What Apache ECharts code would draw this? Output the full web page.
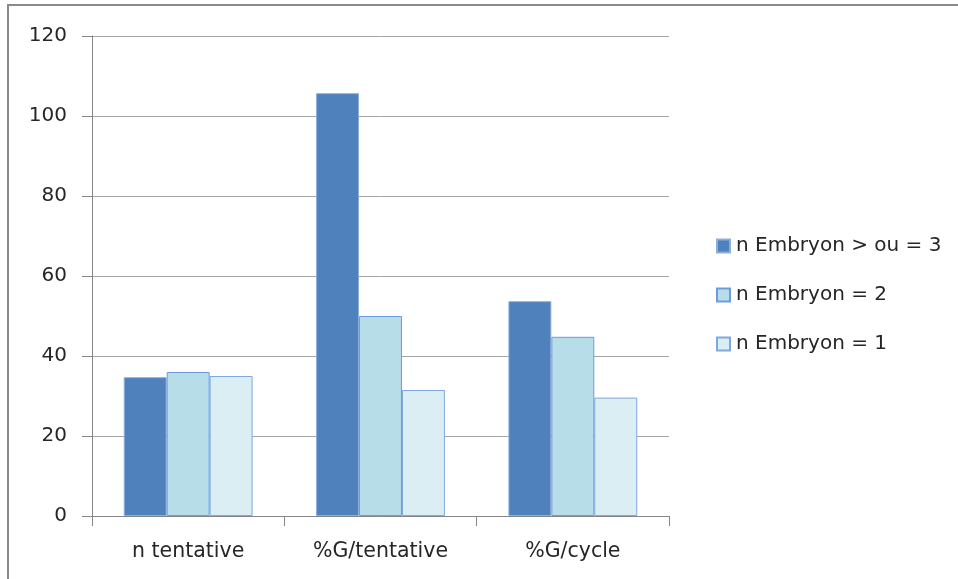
<!DOCTYPE html>
<html><head><meta charset="utf-8">
<script src="https://cdn.jsdelivr.net/npm/echarts@6/dist/echarts.min.js"></script>
<style>html,body{margin:0;padding:0;background:#fff;}#c{width:958px;height:579px;}</style>
</head><body><div id="c"></div>
<script>
const categories = ['n tentative', '%G/tentative', '%G/cycle'];
const seriesNames = ['n Embryon > ou = 3', 'n Embryon = 2', 'n Embryon = 1'];
const embryon3 = [34.7, 105.7, 53.7];
const embryon2 = [36.0, 50.0, 44.8];
const embryon1 = [35.0, 31.5, 29.6];
const yTicks = [0, 20, 40, 60, 80, 100, 120];

const FONT = 'DejaVu Sans';
const chart = echarts.init(document.getElementById('c'));
const fills = ['#4F81BD', '#B7DDE8', '#DBEEF4'];
const borders = ['#8CAEDB', '#6E9BDD', '#7FA7E0'];
const data = [embryon3, embryon2, embryon1];
chart.setOption({
  animation: false,
  graphic: [{type: 'rect', shape: {x: 8, y: 5, width: 1200, height: 1200}, style: {fill: 'none', stroke: '#8A8A8A', lineWidth: 2}, z: -1}],
  grid: {left: 92, right: 289, top: 36, bottom: 63, containLabel: false},
  legend: {
    orient: 'vertical', left: 711, top: 231, itemGap: 29, itemWidth: 13, itemHeight: 13,
    icon: 'rect',
    textStyle: {fontFamily: FONT, fontSize: 20, color: '#262626', padding: [0, 0, 0, 1]},
    data: seriesNames
  },
  xAxis: {
    type: 'category', data: categories,
    axisLine: {lineStyle: {color: '#868686', width: 1}},
    axisTick: {show: true, length: 10, lineStyle: {color: '#868686'}},
    axisLabel: {fontFamily: FONT, fontSize: 20.5, color: '#262626', margin: 25}
  },
  yAxis: {
    type: 'value', min: yTicks[0], max: yTicks[yTicks.length - 1], interval: 20,
    axisLine: {show: true, lineStyle: {color: '#868686'}},
    axisTick: {show: true, length: 10, lineStyle: {color: '#868686'}},
    splitLine: {lineStyle: {color: '#A6A6A6', width: 1}},
    axisLabel: {fontFamily: FONT, fontSize: 20, color: '#262626', margin: 25}
  },
  series: data.map((d, i) => ({
    name: seriesNames[i], type: 'bar', data: d,
    barGap: '0%', barCategoryGap: '33%',
    itemStyle: {color: fills[i], borderColor: borders[i], borderWidth: 1}
  }))
});
</script></body></html>
